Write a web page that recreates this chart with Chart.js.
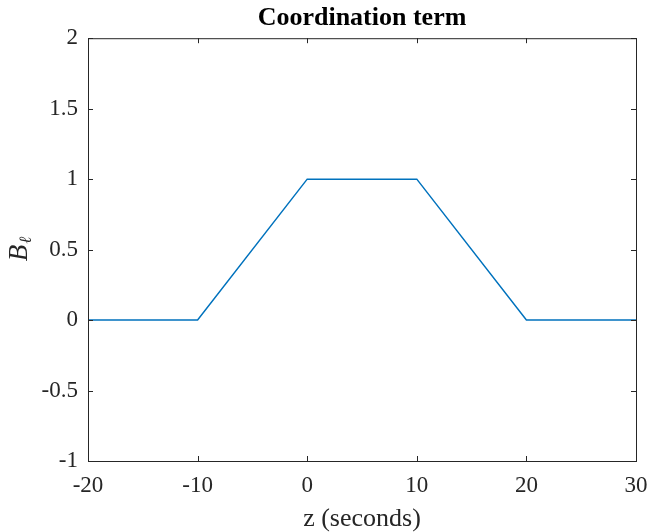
<!DOCTYPE html>
<html>
<head>
<meta charset="utf-8">
<script src="https://cdn.jsdelivr.net/npm/chart.js@4"></script>
<style>
  html, body { margin: 0; padding: 0; background: #fff; }
  #wrap { width: 649px; height: 532px; }
</style>
</head>
<body>
<div id="wrap"><canvas id="coordChart" width="649" height="532"></canvas></div>
<script>
// data
var zValues = [-20, -10, 0, 10, 20, 30];
var bValues = [0, 0, 1, 1, 0, 0];
var xTicks = [-20, -10, 0, 10, 20, 30];
var yTicks = [-1, -0.5, 0, 0.5, 1, 1.5, 2];

var axisColor = '#262626';
var serif = "'Liberation Serif', 'Times New Roman', serif";

// box round the plot area with inward ticks on all four sides, like matlab
var boxPlugin = {
  id: 'box',
  afterDatasetsDraw: function(chart) {
    var ctx = chart.ctx;
    var a = chart.chartArea;
    var xs = chart.scales.x, ys = chart.scales.y;
    var len = 5;
    ctx.save();
    ctx.strokeStyle = axisColor;
    ctx.lineWidth = 1;
    ctx.strokeRect(a.left + 0.5, a.top + 0.5, a.right - a.left, a.bottom - a.top);
    ctx.beginPath();
    xTicks.forEach(function(v) {
      var px = Math.round(xs.getPixelForValue(v)) + 0.5;
      ctx.moveTo(px, a.bottom); ctx.lineTo(px, a.bottom - len);
      ctx.moveTo(px, a.top); ctx.lineTo(px, a.top + len);
    });
    yTicks.forEach(function(v) {
      var py = Math.round(ys.getPixelForValue(v)) + 0.5;
      ctx.moveTo(a.left, py); ctx.lineTo(a.left + len, py);
      ctx.moveTo(a.right, py); ctx.lineTo(a.right - len, py);
    });
    ctx.stroke();

    // y label: italic B with a subscript l
    ctx.fillStyle = axisColor;
    ctx.translate(19, 250);
    ctx.rotate(-Math.PI / 2);
    ctx.textBaseline = 'alphabetic';
    ctx.textAlign = 'left';
    ctx.font = 'italic 27px ' + serif;
    var bw = ctx.measureText('B').width;
    ctx.fillText('B', -bw / 2 - 3, 8);
    ctx.font = 'italic 17px ' + serif;
    ctx.fillText('\u2113', bw / 2 - 2, 12);
    ctx.restore();
  }
};

var ctx = document.getElementById('coordChart').getContext('2d');
var coordChart = new Chart(ctx, {
  type: 'line',
  data: {
    datasets: [{
      label: 'B',
      data: zValues.map(function(z, i) { return { x: z, y: bValues[i] }; }),
      borderColor: '#0072BD',
      borderWidth: 1.5,
      pointRadius: 0,
      fill: false,
      tension: 0
    }]
  },
  options: {
    responsive: false,
    animation: false,
    layout: { padding: { left: 0, right: 13, top: 0, bottom: 0 } },
    plugins: {
      legend: { display: false },
      tooltip: { enabled: false },
      title: {
        display: true,
        fullSize: false,
        text: 'Coordination term',
        color: '#000',
        font: { family: serif, size: 26, weight: 'bold' },
        padding: { top: 3, bottom: 4 }
      }
    },
    scales: {
      x: {
        type: 'linear',
        min: -20,
        max: 30,
        afterBuildTicks: function(scale) {
          scale.ticks = xTicks.map(function(v) { return { value: v }; });
        },
        afterFit: function(scale) {
          scale.height = 71;
          scale.paddingLeft = 0;
          scale.paddingRight = 0;
        },
        grid: { display: false, drawTicks: false },
        border: { display: false },
        ticks: {
          color: axisColor,
          padding: 11,
          maxRotation: 0,
          font: { family: serif, size: 23 },
          callback: function(v) { return String(v); }
        },
        title: {
          display: true,
          text: 'z (seconds)',
          color: axisColor,
          font: { family: serif, size: 26, lineHeight: 1 },
          padding: { top: 0, bottom: 0 }
        }
      },
      y: {
        type: 'linear',
        min: -1,
        max: 2,
        afterBuildTicks: function(scale) {
          scale.ticks = yTicks.map(function(v) { return { value: v }; });
        },
        afterFit: function(scale) {
          scale.width = 88;
          scale.paddingTop = 0;
          scale.paddingBottom = 0;
        },
        grid: { display: false, drawTicks: false },
        border: { display: false },
        ticks: {
          color: axisColor,
          padding: 10,
          font: { family: serif, size: 23 },
          callback: function(v) { return String(v); }
        }
      }
    }
  },
  plugins: [boxPlugin]
});
</script>
</body>
</html>
